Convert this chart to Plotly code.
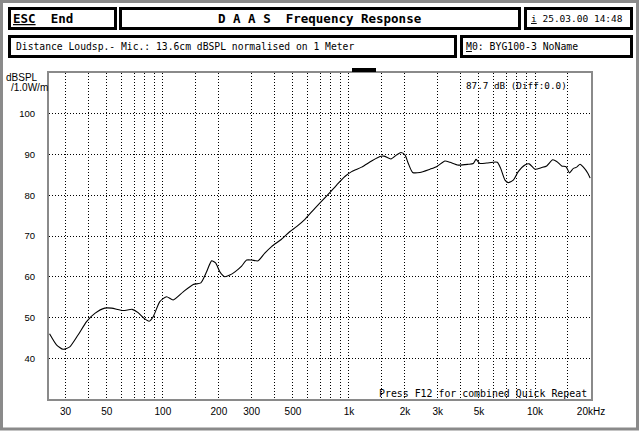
import plotly.graph_objects as go

# ---- data ----
freq_hz = [24.6, 26.8, 29.1, 31.6, 35, 38.9, 43.1, 48.7, 53, 61.2, 68.4, 73.6, 79.3, 84.4,
           88.7, 96.3, 104.7, 113.6, 128.6, 145.6, 160, 171.8, 182.7, 192, 202.5, 215, 229,
           244, 265, 282, 300, 325, 353, 384, 434, 482, 523, 580, 656, 758, 859, 951, 1034,
           1170, 1324, 1468, 1542, 1682, 1805, 1905, 2000, 2085, 2200, 2408, 2725, 2958,
           3280, 3490, 3870, 4380, 4660, 4820, 5060, 5500, 6270, 6540, 6900, 7180, 7640,
           8130, 8830, 9310, 10000, 10860, 11560, 12450, 13080, 13920, 14690, 15300, 16080,
           16760, 17460, 18200, 19230, 19790]
spl_db = [46.0, 43.3, 42.2, 42.8, 45.7, 49.0, 51.0, 52.3, 52.3, 51.7, 52.0, 51.2, 49.8, 49.1,
          50.2, 53.9, 55.1, 54.3, 56.3, 58.1, 58.5, 61.2, 63.9, 63.4, 61.2, 60.0, 60.4,
          61.2, 62.6, 64.1, 64.1, 63.9, 65.8, 67.4, 69.2, 71.1, 72.3, 74.1, 76.8, 79.8, 82.5,
          84.6, 85.8, 86.9, 88.4, 89.5, 89.6, 88.9, 89.9, 90.5, 89.9, 87.8, 85.6, 85.6, 86.4,
          87.0, 88.4, 88.1, 87.4, 87.6, 87.8, 88.8, 87.8, 87.9, 88.1, 86.6, 83.7, 83.1, 83.7,
          85.8, 87.4, 87.7, 86.4, 86.8, 87.2, 88.7, 88.3, 87.2, 87.0, 85.5, 86.6,
          86.9, 87.6, 86.9, 85.4, 84.2]

x_grid = [30, 40, 50, 60, 70, 80, 90, 100, 150, 200, 300, 400, 500, 600, 700, 800, 900,
          1000, 1500, 2000, 3000, 4000, 5000, 6000, 7000, 8000, 9000, 10000, 15000, 20000]
x_labels = ["30", "", "50", "", "", "", "", "100", "", "200", "300", "", "500", "", "", "",
            "", "1k", "", "2k", "3k", "", "5k", "", "", "", "", "10k", "", "20kHz"]
y_grid = [40, 50, 60, 70, 80, 90, 100]
y_labels = ["40", "50", "60", "70", "80", "90", "100"]

# ---- layout geometry (pixels) ----
W, H = 640, 431
L, R, T, B = 49, 591, 73, 399


def px(x):
    return (x - L) / (R - L)


def py(y):
    return (B - y) / (B - T)


MONO = "DejaVu Sans Mono"
SANS = "Liberation Sans"

fig = go.Figure()
fig.add_trace(go.Scatter(x=freq_hz, y=spl_db, mode="lines",
                         line=dict(color="black", width=1.1, shape="spline", smoothing=0.6),
                         hoverinfo="skip", showlegend=False))

fig.update_layout(
    width=W, height=H,
    margin=dict(l=L, r=W - R, t=T, b=H - B, pad=0),
    paper_bgcolor="white", plot_bgcolor="white",
    showlegend=False,
    xaxis=dict(type="log", range=[1.388, 4.301], tickvals=x_grid, ticktext=x_labels,
               showgrid=True, gridcolor="black", gridwidth=1, griddash="1px,2px",
               showline=True, linecolor="#8a8a8a", linewidth=2, mirror=True,
               ticks="", zeroline=False, ticklabelstandoff=2,
               tickfont=dict(family=SANS, size=10, color="black"), fixedrange=True),
    yaxis=dict(range=[30, 110], tickvals=y_grid, ticktext=y_labels,
               showgrid=True, gridcolor="black", gridwidth=1, griddash="1px,2px",
               showline=True, linecolor="#8a8a8a", linewidth=2, mirror=True,
               ticks="", zeroline=False, ticklabelstandoff=10,
               tickfont=dict(family=SANS, size=9.5, color="black"), fixedrange=True),
)

shapes = []
# outer dithered frame
shapes.append(dict(type="rect", xref="paper", yref="paper",
                   x0=px(1.5), x1=px(W - 2.5), y0=py(1.5), y1=py(H - 2),
                   line=dict(color="#8a8a8a", width=3)))
# header boxes
boxes = [(8, 117, 7, 30), (119, 521, 7, 30), (524, 633, 7, 30),
         (8, 457, 35, 58), (460, 633, 35, 58)]
for x0, x1, y0, y1 in boxes:
    shapes.append(dict(type="rect", xref="paper", yref="paper",
                       x0=px(x0 + 1.5), x1=px(x1 - 1.5), y0=py(y0 + 1.5), y1=py(y1 - 1.5),
                       line=dict(color="black", width=3)))
# cursor bar above plot
shapes.append(dict(type="rect", xref="paper", yref="paper",
                   x0=px(352), x1=px(376), y0=py(68), y1=py(72),
                   fillcolor="black", line=dict(width=0)))
fig.update_layout(shapes=shapes)


def txt(x, y, s, size=10, family=MONO, anchor="left", color="black"):
    return dict(x=px(x), y=py(y), xref="paper", yref="paper", text=s, showarrow=False,
                xanchor=anchor, yanchor="middle", font=dict(family=family, size=size, color=color),
                borderpad=0, borderwidth=0)


annots = [
    txt(13, 18.5, "<b><u>ESC</u>  End</b>", size=12.5),
    txt(320, 18.5, "<b>D A A S  Frequency Response</b>", size=12.5, anchor="center"),
    txt(531, 18.5, "<u>i</u> 25.03.00 14:48", size=9.5),
    txt(16, 46.5, "Distance Loudsp.- Mic.: 13.6cm dBSPL normalised on 1 Meter", size=9.7),
    txt(466, 46.5, "<u>M</u>0: BYG100-3 NoName", size=9.8),
    txt(466, 85, "87.7 dB (Diff:0.0)", size=9.3),
    txt(379, 393, "Press F12 for combined Quick Repeat", size=9.9),
    txt(38, 77, "dBSPL", size=10, family=SANS, anchor="right"),
    txt(48, 88, "/1.0W/m", size=10, family=SANS, anchor="right"),
]
fig.update_layout(annotations=annots)

fig.write_html("out.html", config={"displayModeBar": False, "staticPlot": True},
               post_script="document.body.style.margin='0';document.body.style.overflow='hidden';")
